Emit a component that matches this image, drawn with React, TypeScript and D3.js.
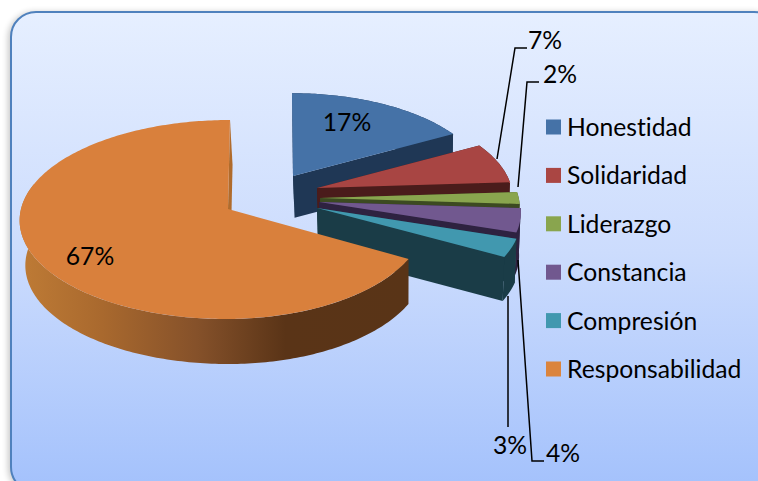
import React from "react";
import * as d3 from "d3";

const categories = ["Honestidad", "Solidaridad", "Liderazgo", "Constancia", "Compresión", "Responsabilidad"];
const percents = [17, 7, 2, 4, 3, 67];
const topColors = ["#4572a7", "#a84543", "#89a54e", "#71588f", "#4198af", "#d9803c"];
const sideColors = ["#1f3755", "#4a1c1b", "#3c4a21", "#2e2240", "#1a3c47", "url(#wallGrad)"];
const legendColors = ["#4572a7", "#aa4643", "#89a54e", "#71588f", "#4198af", "#db843d"];

// Layout of the exploded 3D pie
const apexX = [293, 317, 320, 319, 317, 228];
const apexY = [176, 188, 198, 202, 208, 209];
const sliceScale = [0.93, 0.94, 0.96, 0.97, 0.98, 1];
const rightSquash = [1, 1, 1, 1, 1, 0.95];
const lean = [-1, 0, 0, 0, 0, 2];

const labelX = [347, 545, 560, 563, 510, 90];
const labelY = [131, 49, 83, 462, 454, 265];

const W = 758;
const H = 481;
const R = 207;
const RK = 98.4;
const PERSP = 0.1055;
const DEPTH = 45;
const VX = 400;
const VF = 0.015;
const WALL_END = (285 * Math.PI) / 180;

type Pt = [number, number];

const pieGen = d3.pie<number>().sort(null).startAngle(0).endAngle(2 * Math.PI);
const arcs = pieGen(percents);
const lineGen = d3.line<Pt>().x((d) => d[0]).y((d) => d[1]);

function project(i: number, t: number): Pt {
  const s = 1 / (1 + PERSP * Math.cos(t));
  const sn = Math.sin(t);
  const xs = sn > 0 ? rightSquash[i] : 1;
  return [
    apexX[i] + sliceScale[i] * xs * R * sn * s + lean[i] * Math.cos(t),
    apexY[i] - sliceScale[i] * RK * Math.cos(t) * s,
  ];
}
const down = (i: number, p: Pt): Pt => [p[0] + (VX - p[0]) * VF, p[1] + DEPTH * sliceScale[i]];
const arcPts = (i: number, a: number, b: number): Pt[] =>
  d3.range(0, 1.0001, 1 / Math.max(2, Math.ceil((b - a) * 60))).map((f) => project(i, a + (b - a) * f));

export default function App() {
  const legendStep = (369 - 127) / 5;
  return (
    <svg
      width={W}
      height={H}
      viewBox={`0 0 ${W} ${H}`}
      style={{ position: "absolute", left: 0, top: 0, display: "block", background: "#fff", fontVariantLigatures: "none" }}
      fontFamily="Lato, Carlito, sans-serif"
    >
      <defs>
        <linearGradient id="bgGrad" x1="0" y1="0" x2="0" y2="1">
          <stop offset="0" stopColor="#e6efff" />
          <stop offset="0.5" stopColor="#ccdcfd" />
          <stop offset="1" stopColor="#a3c1fc" />
        </linearGradient>
        <linearGradient id="wallGrad" gradientUnits="userSpaceOnUse" x1="25" y1="0" x2="408" y2="0">
          <stop offset="0" stopColor="#bd7a35" />
          <stop offset="0.2" stopColor="#a9692e" />
          <stop offset="0.45" stopColor="#85512a" />
          <stop offset="0.68" stopColor="#5a3417" />
          <stop offset="1" stopColor="#593417" />
        </linearGradient>
        <filter id="shadow" x="-5%" y="-5%" width="110%" height="110%">
          <feGaussianBlur stdDeviation="3" />
        </filter>
      </defs>

      <rect x={8} y={12} width={770} height={482} rx={26} fill="#000" opacity={0.22} filter="url(#shadow)" />
      <rect x={11} y={12} width={768} height={480} rx={25} fill="url(#bgGrad)" stroke="#4f81bd" strokeWidth={2} />

      {arcs.map((a, i) => {
        const top = arcPts(i, a.startAngle, a.endAngle);
        const apex: Pt = [apexX[i], apexY[i]];
        const isOrange = i === percents.length - 1;
        const wallTop = isOrange ? arcPts(i, a.startAngle, WALL_END) : top;
        const wall = [...wallTop, ...wallTop.map((p) => down(i, p)).reverse()];
        const endPt = top[top.length - 1];
        const cut = [apex, endPt, down(i, endPt), down(i, apex)];
        const startPt = top[0];
        const back = [apex, startPt, down(i, startPt), down(i, apex)];
        return (
          <g key={categories[i]}>
            {isOrange && <path d={lineGen([endPt, apex, down(i, apex), down(i, endPt)]) + "Z"} fill="#b06b2c" />}
            {!isOrange && <path d={lineGen(back) + "Z"} fill={sideColors[i]} />}
            <path d={lineGen(wall) + "Z"} fill={sideColors[i]} />
            {!isOrange && <path d={lineGen(cut) + "Z"} fill={sideColors[i]} />}
            <path d={lineGen([apex, ...top]) + "Z"} fill={topColors[i]} />
          </g>
        );
      })}

      <g fill="none" stroke="#000" strokeWidth={1.5}>
        <polyline points="497,159 515,48 527,48" />
        <polyline points="518,187 527,82 539,82" />
        <polyline points="508,296 508,427" />
        <polyline points="518,260 532,461 544,461" />
      </g>

      <g fontSize={24.7} fill="#000" textAnchor="middle">
        {percents.map((v, i) => (
          <text key={categories[i]} x={labelX[i]} y={labelY[i]}>{`${v}%`}</text>
        ))}
      </g>

      <g>
        {categories.map((c, i) => (
          <g key={c} transform={`translate(0,${127 + i * legendStep})`}>
            <rect x={546} y={-7.5} width={15} height={15} fill={legendColors[i]} />
            <text x={567} y={9} fontSize={24.7} fill="#000">{c}</text>
          </g>
        ))}
      </g>
    </svg>
  );
}
